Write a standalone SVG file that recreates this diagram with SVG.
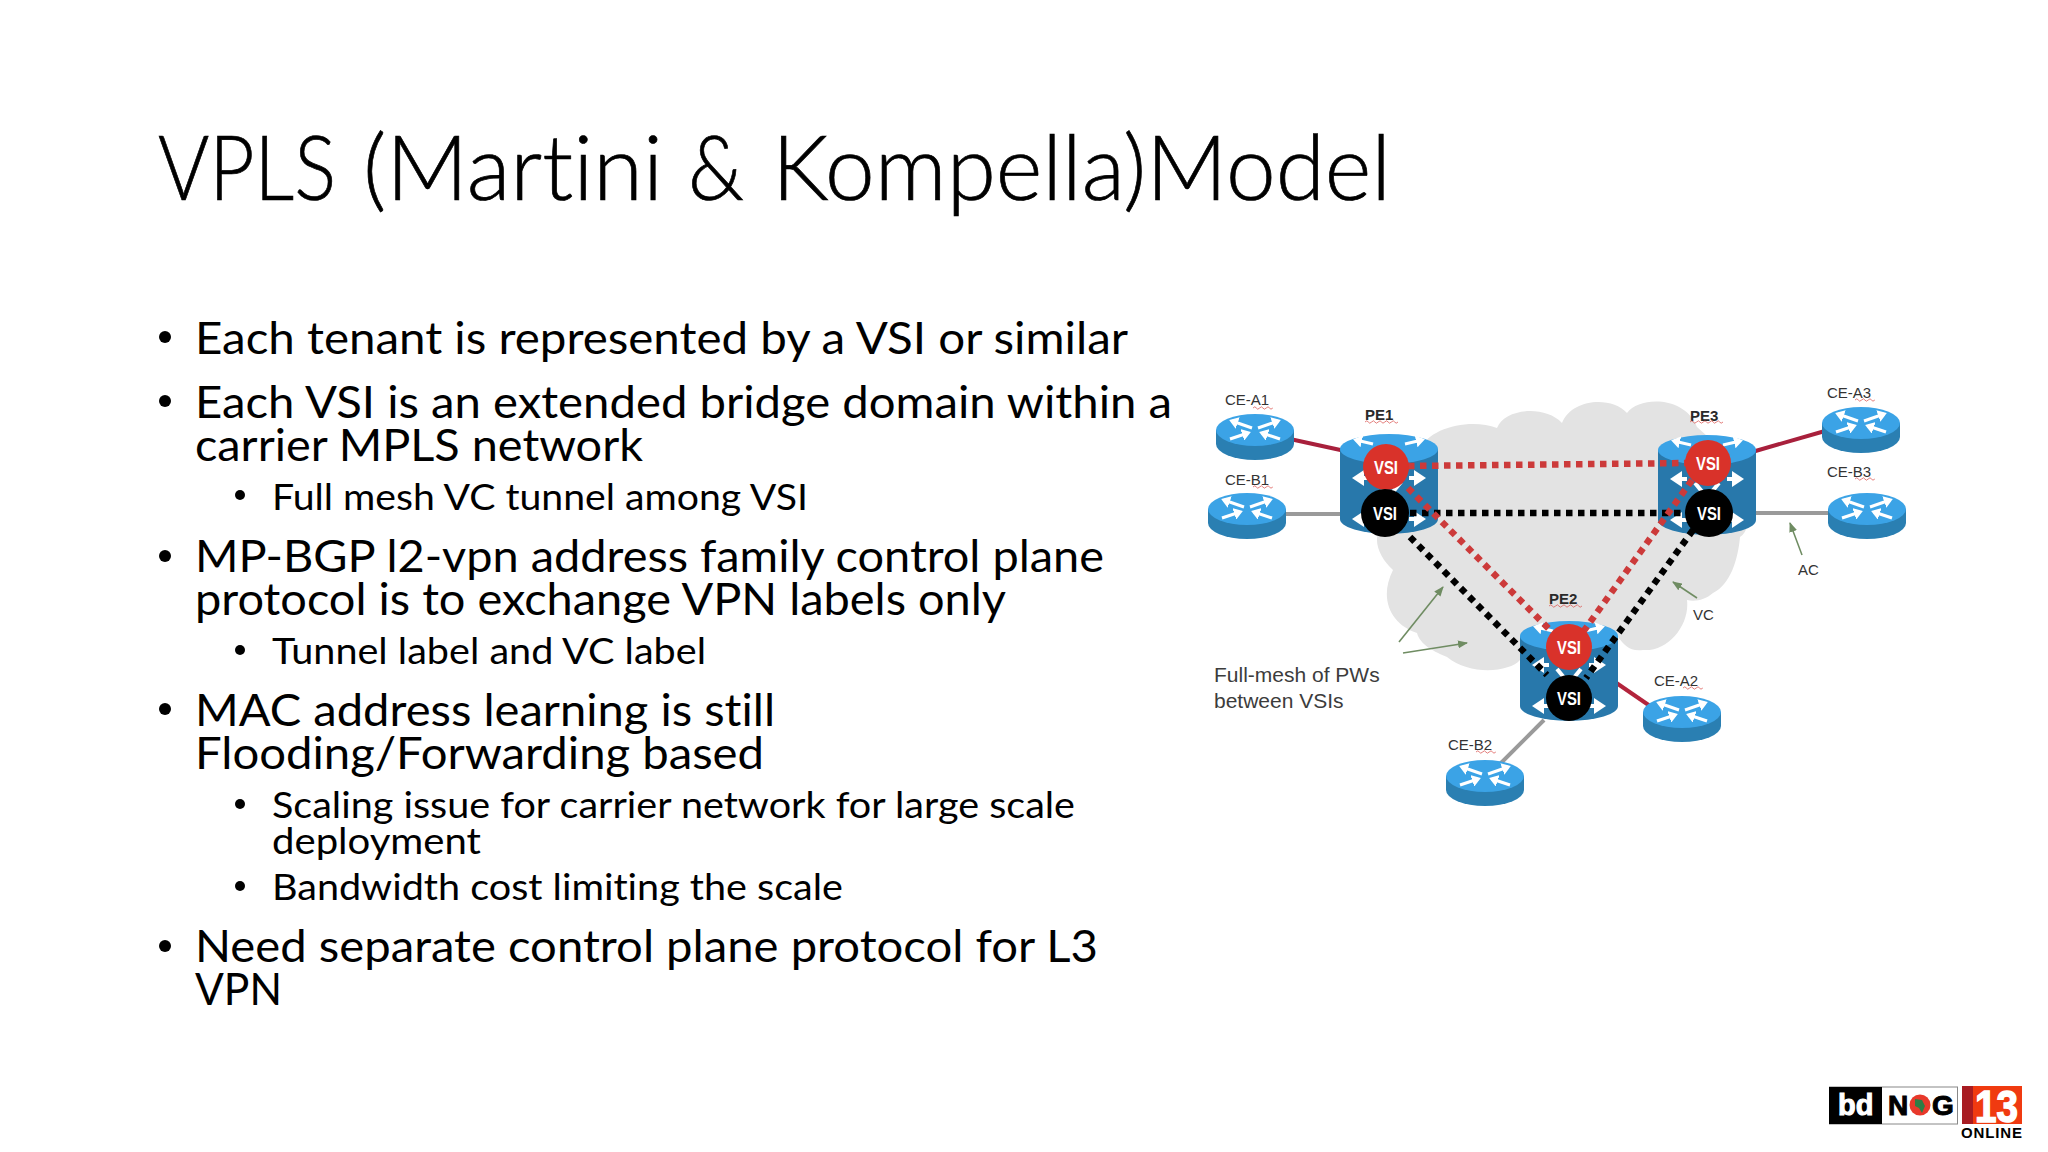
<svg xmlns="http://www.w3.org/2000/svg" width="2048" height="1152" viewBox="0 0 2048 1152">
<style>
text{font-family:"Lato","Carlito","Liberation Sans",sans-serif;fill:#000;font-variant-ligatures:none}
.title{font-size:91px;font-weight:300;stroke:#000;stroke-width:.7}
.b1{font-size:44px}
.b2{font-size:37px}
.lab{font-family:"Liberation Sans",Arial,sans-serif;font-size:15px;fill:#333}
.pe{font-family:"Liberation Sans",Arial,sans-serif;font-size:15px;font-weight:bold;fill:#2a2a2a}
.note{font-family:"Liberation Sans",Arial,sans-serif;font-size:21px;fill:#3c3c3c}
.vsi{font-family:"Liberation Sans",Arial,sans-serif;font-size:19px;font-weight:bold;fill:#fff;text-anchor:middle}
.logo{font-family:"Liberation Sans",Arial,sans-serif;font-weight:bold}
.ac{fill:none;stroke-width:4}
.pwr{fill:none;stroke:#cc3a3a;stroke-width:6.500;stroke-dasharray:6.500 5.500}
.pwk{fill:none;stroke:#000;stroke-width:6.500;stroke-dasharray:6.500 5.500}
.gr{fill:none;stroke:#6f8c62;stroke-width:1.6;marker-end:url(#ga)}
.w{stroke:#fff;stroke-width:4;fill:none;marker-end:url(#wa)}
.ws{stroke:#fff;stroke-width:3;fill:none;marker-end:url(#wa)}
.sq{fill:none;stroke:#d9534f;stroke-width:1;opacity:.75}
</style>
<defs>
<marker id="wa" markerWidth="4" markerHeight="4" refX="2" refY="2" orient="auto"><path d="M0,0L3,2L0,4Z" fill="#fff"/></marker>
<marker id="ga" markerUnits="userSpaceOnUse" markerWidth="10" markerHeight="8" refX="9" refY="4" orient="auto"><path d="M0,0L10,4L0,8Z" fill="#6f8c62"/></marker>
<g id="rt">
<path d="M-39,0V14A39,16 0 0 0 39,14V0Z" fill="#2a7fb2"/>
<ellipse rx="39" ry="16" fill="#3ba3e6"/>
<path class="ws" d="M-3,-2L-23,-9"/>
<path class="ws" d="M3,-2L23,-9"/>
<path class="ws" d="M-25,9L-7,3"/>
<path class="ws" d="M25,9L7,3"/>
</g>
<g id="cyl">
<path d="M-49,0V70A49,15 0 0 0 49,70V0Z" fill="#2878ab"/>
<ellipse rx="49" ry="15" fill="#3ba3e6"/>
<path class="ws" d="M-16,-5L-33,-9"/>
<path class="ws" d="M16,-5L33,-9"/>
<path class="w" d="M-20,29L-33,29"/>
<path class="w" d="M20,29L33,29"/>
<path class="w" d="M-20,70L-33,70"/>
<path class="w" d="M20,70L33,70"/>
<path d="M-12,33L-3,44M12,33L3,44" stroke="#fff" stroke-width="4" fill="none"/>
</g>
<path id="sqs" class="sq" d="M0,0q2,-2.4 3.3,0t3.3,0t3.3,0t3.3,0t3.3,0t3.3,0"/>
<path id="sql" class="sq" d="M0,0q2,-2.4 3.3,0t3.3,0t3.3,0t3.3,0t3.3,0t3.3,0t3.3,0t3.3,0t3.3,0t3.3,0"/>
</defs>
<rect width="2048" height="1152" fill="#fff"/>
<text class="title" y="200"><tspan x="158" textLength="178" lengthAdjust="spacingAndGlyphs">VPLS</tspan> <tspan x="363" textLength="300" lengthAdjust="spacingAndGlyphs">(Martini</tspan> <tspan x="688" textLength="56" lengthAdjust="spacingAndGlyphs">&amp;</tspan> <tspan x="772" textLength="619" lengthAdjust="spacingAndGlyphs">Kompella)Model</tspan></text>
<g id="body">
<g fill="#000">
<circle cx="165" cy="337" r="6"/><circle cx="165" cy="401" r="6"/><circle cx="165" cy="556" r="6"/><circle cx="165" cy="709" r="6"/><circle cx="165" cy="946" r="6"/>
<circle cx="240" cy="495" r="5"/><circle cx="240" cy="650" r="5"/><circle cx="240" cy="804" r="5"/><circle cx="240" cy="886" r="5"/>
</g>
<text class="b1" x="195" y="354" textLength="933" lengthAdjust="spacingAndGlyphs">Each tenant is represented by a VSI or similar</text>
<text class="b1" x="195" y="418" textLength="977" lengthAdjust="spacingAndGlyphs">Each VSI is an extended bridge domain within a</text>
<text class="b1" x="195" y="461" textLength="448" lengthAdjust="spacingAndGlyphs">carrier MPLS network</text>
<text class="b2" x="272" y="510" textLength="536" lengthAdjust="spacingAndGlyphs">Full mesh VC tunnel among VSI</text>
<text class="b1" x="195" y="572" textLength="909" lengthAdjust="spacingAndGlyphs">MP-BGP l2-vpn address family control plane</text>
<text class="b1" x="195" y="615" textLength="811" lengthAdjust="spacingAndGlyphs">protocol is to exchange VPN labels only</text>
<text class="b2" x="272" y="664" textLength="434" lengthAdjust="spacingAndGlyphs">Tunnel label and VC label</text>
<text class="b1" x="195" y="726" textLength="580" lengthAdjust="spacingAndGlyphs">MAC address learning is still</text>
<text class="b1" x="195" y="769" textLength="569" lengthAdjust="spacingAndGlyphs">Flooding/Forwarding based</text>
<text class="b2" x="272" y="818" textLength="803" lengthAdjust="spacingAndGlyphs">Scaling issue for carrier network for large scale</text>
<text class="b2" x="272" y="854" textLength="209" lengthAdjust="spacingAndGlyphs">deployment</text>
<text class="b2" x="272" y="900" textLength="571" lengthAdjust="spacingAndGlyphs">Bandwidth cost limiting the scale</text>
<text class="b1" x="195" y="962" textLength="903" lengthAdjust="spacingAndGlyphs">Need separate control plane protocol for L3</text>
<text class="b1" x="195" y="1005" textLength="87" lengthAdjust="spacingAndGlyphs">VPN</text>
</g>
<path id="cloud" fill="#e3e3e3" d="M1420,450C1428,428 1470,418 1497,428C1505,408 1545,405 1562,423C1572,398 1612,396 1627,413C1640,396 1685,396 1697,427L1745,470C1752,500 1752,530 1740,537C1738,560 1730,585 1713,593C1705,600 1695,602 1687,600C1690,625 1668,652 1643,650C1630,652 1624,645 1618,637L1560,650L1520,660C1510,672 1470,676 1447,657C1435,652 1420,645 1417,633C1392,625 1378,600 1393,570C1382,560 1374,545 1378,533Z"/>
<g id="connectors-ac">
<path class="ac" stroke="#a8203c" d="M1290,439L1345,451"/>
<path class="ac" stroke="#9a9a9a" d="M1285,514H1345"/>
<path class="ac" stroke="#a8203c" d="M1752,452L1825,431"/>
<path class="ac" stroke="#9a9a9a" d="M1752,513H1830"/>
<path class="ac" stroke="#b3243c" d="M1615,682L1650,706"/>
<path class="ac" stroke="#9a9a9a" d="M1544,720L1499,765"/>
</g>
<g id="CE-A1"><use href="#rt" x="1255" y="430"/><text class="lab" x="1225" y="405">CE-A1</text><use href="#sqs" x="1253" y="408"/></g>
<g id="CE-B1"><use href="#rt" x="1247" y="509"/><text class="lab" x="1225" y="485">CE-B1</text><use href="#sqs" x="1253" y="487"/></g>
<g id="CE-A3"><use href="#rt" x="1861" y="423"/><text class="lab" x="1827" y="398">CE-A3</text><use href="#sqs" x="1855" y="400"/></g>
<g id="CE-B3"><use href="#rt" x="1867" y="509"/><text class="lab" x="1827" y="477">CE-B3</text><use href="#sqs" x="1855" y="479"/></g>
<g id="CE-A2"><use href="#rt" x="1682" y="712"/><text class="lab" x="1654" y="686">CE-A2</text><use href="#sqs" x="1683" y="688"/></g>
<g id="CE-B2"><use href="#rt" x="1485" y="776"/><text class="lab" x="1448" y="750">CE-B2</text><use href="#sqs" x="1476" y="752"/></g>
<g id="PE1-base"><use href="#cyl" x="1389" y="449"/><text class="pe" x="1365" y="420">PE1</text><use href="#sql" x="1365" y="422"/></g>
<g id="PE3-base"><use href="#cyl" x="1707" y="450"/><text class="pe" x="1690" y="421">PE3</text><use href="#sql" x="1690" y="422"/></g>
<g id="PE2-base"><use href="#cyl" x="1569" y="636"/><text class="pe" x="1549" y="604">PE2</text><use href="#sql" x="1549" y="606"/></g>
<g id="connectors-pw">
<path class="pwk" d="M1410,513H1690"/>
<path class="pwk" d="M1410,537L1547,675"/>
<path class="pwk" d="M1693,530L1586,678"/>
<path class="pwr" d="M1408,466L1690,463"/>
<path class="pwr" d="M1408,488L1550,630"/>
<path class="pwr" d="M1692,480L1583,632"/>
</g>
<g id="annotations">
<path class="gr" d="M1399,642L1443,587"/>
<path class="gr" d="M1403,653L1467,643"/>
<path class="gr" d="M1802,555L1790,523"/>
<path class="gr" d="M1697,598L1673,582"/>
<text class="note" x="1214" y="682">Full-mesh of PWs</text>
<text class="note" x="1214" y="708">between VSIs</text>
<text class="lab" x="1798" y="575">AC</text>
<text class="lab" x="1693" y="620">VC</text>
</g>
<g id="PE1-VSI"><circle cx="1386" cy="467" r="23" fill="#d9322a"/><text class="vsi" x="1386" y="474" textLength="24" lengthAdjust="spacingAndGlyphs">VSI</text><circle cx="1385" cy="513" r="24" fill="#000"/><text class="vsi" x="1385" y="520" textLength="24" lengthAdjust="spacingAndGlyphs">VSI</text></g>
<g id="PE3-VSI"><circle cx="1708" cy="463" r="23" fill="#d9322a"/><text class="vsi" x="1708" y="470" textLength="24" lengthAdjust="spacingAndGlyphs">VSI</text><circle cx="1709" cy="513" r="24" fill="#000"/><text class="vsi" x="1709" y="520" textLength="24" lengthAdjust="spacingAndGlyphs">VSI</text></g>
<g id="PE2-VSI"><circle cx="1569" cy="647" r="23" fill="#d9322a"/><text class="vsi" x="1569" y="654" textLength="24" lengthAdjust="spacingAndGlyphs">VSI</text><circle cx="1569" cy="698" r="23" fill="#000"/><text class="vsi" x="1569" y="705" textLength="24" lengthAdjust="spacingAndGlyphs">VSI</text></g>
<g id="logo">
<rect x="1829.500" y="1087" width="128" height="37" fill="#fff" stroke="#888" stroke-width="1"/>
<rect x="1829" y="1087" width="53" height="37" fill="#000"/>
<text class="logo" x="1838" y="1115" font-size="29" style="fill:#fff;stroke:#fff;stroke-width:1">bd</text>
<text class="logo" x="1888" y="1115" font-size="28" style="stroke:#000;stroke-width:1">N</text>
<circle cx="1920" cy="1105" r="10.500" fill="#e8392b"/>
<path d="M1915,1099L1922,1100L1925,1106L1922,1113L1919,1108L1915,1106Z" fill="#2e7d45"/>
<text class="logo" x="1932" y="1115" font-size="28" style="stroke:#000;stroke-width:1">G</text>
<rect x="1962" y="1086" width="60" height="38" fill="#f03a10"/>
<rect x="1962" y="1086" width="11" height="38" fill="#a81c22"/>
<text class="logo" x="1975" y="1122" font-size="44" textLength="43" lengthAdjust="spacingAndGlyphs" style="fill:#fff;stroke:#fff;stroke-width:1.500">13</text>
<text class="logo" x="1961" y="1138" font-size="15" textLength="61">ONLINE</text>
</g>
</svg>
